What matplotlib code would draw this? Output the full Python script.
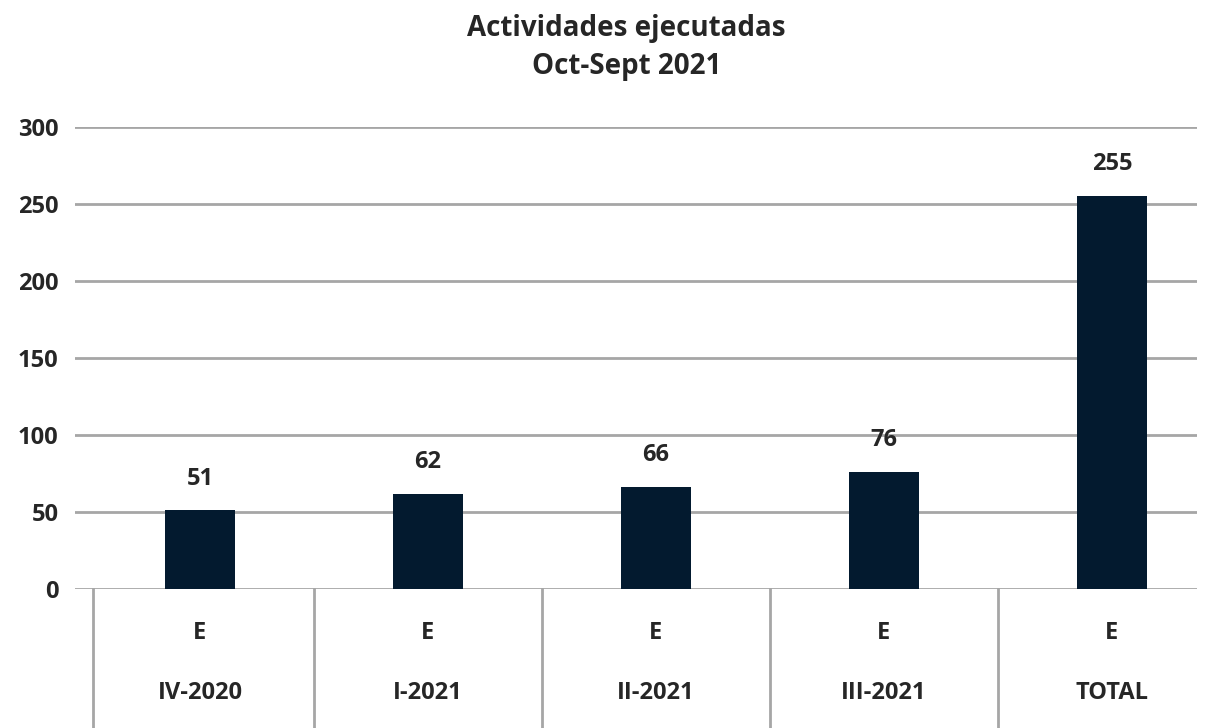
import matplotlib.pyplot as plt
import numpy as np

plt.rcParams['font.family'] = ['Open Sans', 'DejaVu Sans']

# data
quarters = ['IV-2020', 'I-2021', 'II-2021', 'III-2021', 'TOTAL']
row_label = 'E'
ejecutadas = [51, 62, 66, 76, 255]

bar_color = '#031a2f'
text_color = '#262626'
grid_color = '#a6a6a6'

fig = plt.figure(figsize=(12.12, 7.28), dpi=100)
ax = fig.add_axes([75 / 1212, 139 / 728, 1122 / 1212, 462 / 728])

x = np.arange(len(quarters))
bars = ax.bar(x, ejecutadas, width=0.31, color=bar_color, zorder=3)

for b, v in zip(bars, ejecutadas):
    ax.annotate(str(v), (b.get_x() + b.get_width() / 2, v), xytext=(0, 23),
                textcoords='offset points', ha='center', va='center',
                fontsize=17, fontweight='bold', color=text_color)

ax.set_ylim(0, 300)
ax.set_xlim(-0.548, 4.373)
ax.set_yticks(range(0, 301, 50))
ax.yaxis.grid(True, color=grid_color, linewidth=2, zorder=0)
ax.tick_params(axis='y', length=0, pad=12, labelsize=17, labelcolor=text_color)
for lbl in ax.get_yticklabels():
    lbl.set_fontweight('bold')
ax.set_xticks([])
for s in ax.spines.values():
    s.set_visible(False)

# category table under the axis
trans = ax.get_xaxis_transform()
for sep in [-0.47, 0.5, 1.5, 2.5, 3.5]:
    ax.plot([sep, sep], [0, -0.31], transform=trans, color=grid_color,
            linewidth=2, clip_on=False)
for i, q in enumerate(quarters):
    ax.text(i, -0.095, row_label, transform=trans, ha='center', va='center',
            fontsize=17, fontweight='bold', color=text_color)
    ax.text(i, -0.225, q, transform=trans, ha='center', va='center',
            fontsize=17, fontweight='bold', color=text_color)

fig.text(0.517, 0.935, 'Actividades ejecutadas\nOct-Sept 2021', ha='center',
         va='center', fontsize=20, fontweight='bold', color=text_color,
         linespacing=1.4)

fig.savefig('out.png')
